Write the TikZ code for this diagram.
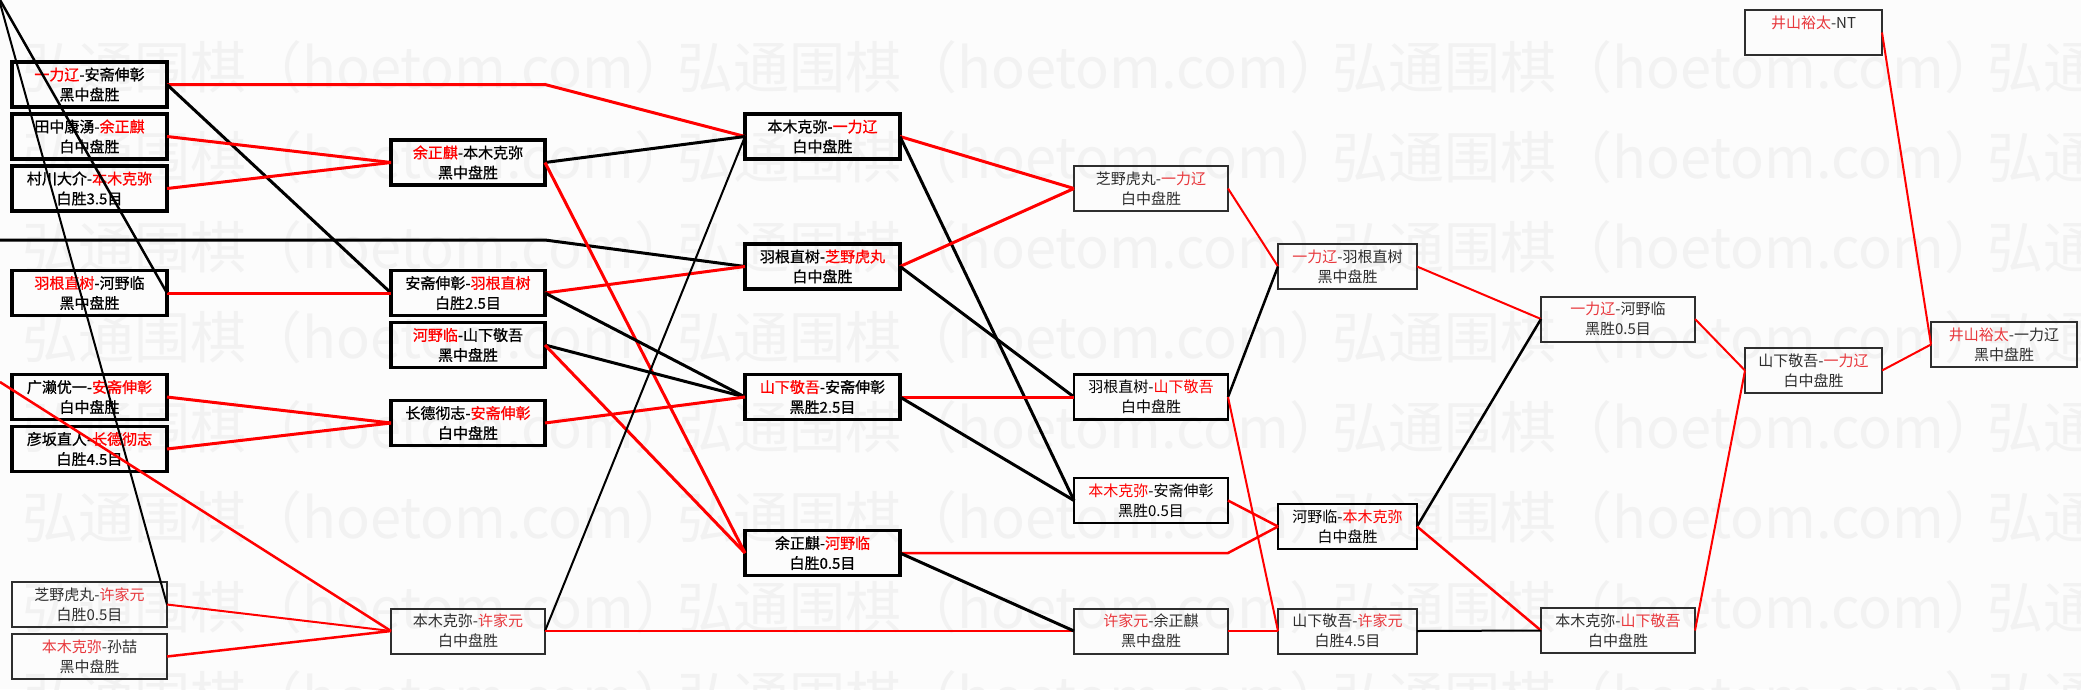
\documentclass[tikz,border=0pt]{standalone}
\usepackage{fontspec}
\newfontfamily\cjk{Noto Sans CJK SC}
\newfontfamily\cjkbold[FakeBold=0.8]{Noto Sans CJK SC}
\definecolor{wred}{HTML}{FF0000}
\definecolor{tred}{HTML}{E8383D}
\definecolor{wmc}{HTML}{F2F2F2}
\definecolor{bgc}{HTML}{FCFCFC}
\definecolor{tgray}{HTML}{2E2E2E}
\colorlet{namered}{wred}
\newcommand{\redname}[1]{\textcolor{namered}{#1}}
\tikzset{
  box/.style={draw, minimum height=45pt, inner sep=0pt, outer sep=0pt, align=center,
    font=\cjk\fontsize{15}{20}\selectfont},
  thickbox/.style={box, line width=3.2pt, font=\cjkbold\fontsize{15}{20}\selectfont},
  medbox/.style={box, line width=2.6pt},
  thinbox/.style={box, line width=2pt, draw=tgray, text=tgray,
    execute at begin node={\colorlet{namered}{tred}}},
  colA/.style={minimum width=155pt},
  colB/.style={minimum width=154pt},
  colC/.style={minimum width=155pt},
  colD/.style={minimum width=154pt},
  colE/.style={minimum width=139pt},
  colF/.style={minimum width=154pt},
  colG/.style={minimum width=137pt},
  colH/.style={minimum width=146pt},
  rthick/.style={draw=wred, line width=3pt},
  rmed/.style={draw=wred, line width=2.5pt},
  rthin/.style={draw=wred, line width=2pt},
  kthick/.style={draw=black, line width=3pt},
  kmed/.style={draw=black, line width=2.5pt},
  kthin/.style={draw=black, line width=2pt},
  wmtext/.style={text=wmc, inner sep=0pt, anchor=west, font=\cjk\fontsize{56}{56}\selectfont},
}
\begin{document}
\begin{tikzpicture}[x=1pt,y=-1pt]
\useasboundingbox (0,0) rectangle (2081,689);
\fill[bgc] (0,0) rectangle (2081,689);
% watermark
\begin{scope}
\clip (0,0) rectangle (2081,689);
\foreach \j in {0,...,7}{
  \foreach \k in {0,...,3}{
    \node[wmtext] (wm-\j-\k) at ({22+655*\k},{67+90*\j}) {弘通围棋（hoetom.com）};
  }
}
\end{scope}

% column 1
\node[thickbox,colA] (a1) at (89.5,84.5) {\redname{一力辽}-安斋伸彰\\黑中盘胜};
\node[thickbox,colA] (a2) at (89.5,136.5) {田中康湧-\redname{余正麒}\\白中盘胜};
\node[thickbox,colA] (a3) at (89.5,188.5) {村川大介-\redname{本木克弥}\\白胜3.5目};
\node[thickbox,colA] (a4) at (89.5,293) {\redname{羽根直树}-河野临\\黑中盘胜};
\node[thickbox,colA] (a5) at (89.5,397) {广濑优一-\redname{安斋伸彰}\\白中盘胜};
\node[thickbox,colA] (a6) at (89.5,449) {彦坂直人-\redname{长德彻志}\\白胜4.5目};
\node[thinbox,colA] (a7) at (89.5,604.5) {芝野虎丸-\redname{许家元}\\白胜0.5目};
\node[thinbox,colA] (a8) at (89.5,656.5) {\redname{本木克弥}-孙喆\\黑中盘胜};
% column 2
\node[thickbox,colB] (b1) at (468,162.5) {\redname{余正麒}-本木克弥\\黑中盘胜};
\node[thickbox,colB] (b2) at (468,293) {安斋伸彰-\redname{羽根直树}\\白胜2.5目};
\node[thickbox,colB] (b3) at (468,345) {\redname{河野临}-山下敬吾\\黑中盘胜};
\node[thickbox,colB] (b4) at (468,423) {长德彻志-\redname{安斋伸彰}\\白中盘胜};
\node[thinbox,colB] (b5) at (468,631) {本木克弥-\redname{许家元}\\白中盘胜};
% column 3
\node[thickbox,colC] (c1) at (822.5,136.5) {本木克弥-\redname{一力辽}\\白中盘胜};
\node[thickbox,colC] (c2) at (822.5,266.5) {羽根直树-\redname{芝野虎丸}\\白中盘胜};
\node[thickbox,colC] (c3) at (822.5,397) {\redname{山下敬吾}-安斋伸彰\\黑胜2.5目};
\node[thickbox,colC] (c4) at (822.5,553) {余正麒-\redname{河野临}\\白胜0.5目};
% column 4
\node[thinbox,colD] (d1) at (1151,188.5) {芝野虎丸-\redname{一力辽}\\白中盘胜};
\node[medbox,colD] (d2) at (1151,397) {羽根直树-\redname{山下敬吾}\\白中盘胜};
\node[medbox,colD] (d3) at (1151,500.5) {\redname{本木克弥}-安斋伸彰\\黑胜0.5目};
\node[thinbox,colD] (d4) at (1151,631) {\redname{许家元}-余正麒\\黑中盘胜};
% column 5
\node[thinbox,colE] (e1) at (1347.5,266.5) {\redname{一力辽}-羽根直树\\黑中盘胜};
\node[medbox,colE] (e2) at (1347.5,526.5) {河野临-\redname{本木克弥}\\白中盘胜};
\node[thinbox,colE] (e3) at (1347.5,631) {山下敬吾-\redname{许家元}\\白胜4.5目};
% column 6
\node[thinbox,colF] (f1) at (1618,319) {\redname{一力辽}-河野临\\黑胜0.5目};
\node[thinbox,colF] (f2) at (1618,630.5) {本木克弥-\redname{山下敬吾}\\白中盘胜};
% column 7
\node[thinbox,colG] (g1) at (1813.5,32.5) {\redname{井山裕太}-NT\\\mbox{}};
\node[thinbox,colG] (g2) at (1813.5,370.5) {山下敬吾-\redname{一力辽}\\白中盘胜};
% column 8
\node[thinbox,colH] (h1) at (2004,344.5) {\redname{井山裕太}-一力辽\\黑中盘胜};

% free ends
\coordinate (tlA) at (0,0);
\coordinate (tlB) at (0,3);
\coordinate (lb) at (0,240);
\coordinate (lr) at (0,382);

% connectors column 1 -> 2
\draw[rthick] (a1.east) -- (a1.east -| b1.east) -- (c1.west);
\draw[kthick] (a1.east) -- (b2.west);
\draw[rthick] (a2.east) -- (b1.west);
\draw[rthick] (a3.east) -- (b1.west);
\draw[rthick] (a4.east) -- (b2.west);
\draw[kmed] (tlA) -- (a4.east);
\draw[kthin] (tlB) -- (a7.east);
\draw[kthick] (lb) -- (lb -| b1.east) -- (c2.west);
\draw[rthick] (a5.east) -- (b4.west);
\draw[rthick] (a6.east) -- (b4.west);
\draw[rmed] (lr) -- (b5.west);
\draw[rthin] (a7.east) -- (b5.west);
\draw[rmed] (a8.east) -- (b5.west);
% column 2 -> 3
\draw[kthick] (b1.east) -- (c1.west);
\draw[rthick] (b1.east) -- (c4.west);
\draw[rthick] (b2.east) -- (c2.west);
\draw[kthick] (b2.east) -- (c3.west);
\draw[kthick] (b3.east) -- (c3.west);
\draw[rthick] (b3.east) -- (c4.west);
\draw[rthick] (b4.east) -- (c3.west);
\draw[kthin] (b5.east) -- (c1.west);
\draw[rthin] (b5.east) -- (d4.west);
% column 3 -> 4
\draw[rthick] (c1.east) -- (d1.west);
\draw[kthick] (c1.east) -- (d3.west);
\draw[rthick] (c2.east) -- (d1.west);
\draw[kthick] (c2.east) -- (d2.west);
\draw[rthick] (c3.east) -- (d2.west);
\draw[kthick] (c3.east) -- (d3.west);
\draw[rmed] (c4.east) -- (c4.east -| d1.east) -- (e2.west);
\draw[kthick] (c4.east) -- (d4.west);
% column 4 -> 5
\draw[rthin] (d1.east) -- (e1.west);
\draw[kmed] (d2.east) -- (e1.west);
\draw[rthin] (d2.east) -- (e3.west);
\draw[rmed] (d3.east) -- (e2.west);
\draw[rthin] (d4.east) -- (e3.west);
% column 5 -> 6
\draw[rthin] (e1.east) -- (f1.west);
\draw[kmed] (e2.east) -- (f1.west);
\draw[rmed] (e2.east) -- (f2.west);
\draw[kthin] (e3.east) -- (f2.west);
% column 6 -> 7
\draw[rthin] (f1.east) -- (g2.west);
\draw[rthin] (f2.east) -- (g2.west);
% column 7 -> 8
\draw[rthin] (g1.east) -- (h1.west);
\draw[rthin] (g2.east) -- (h1.west);
\end{tikzpicture}
\end{document}
